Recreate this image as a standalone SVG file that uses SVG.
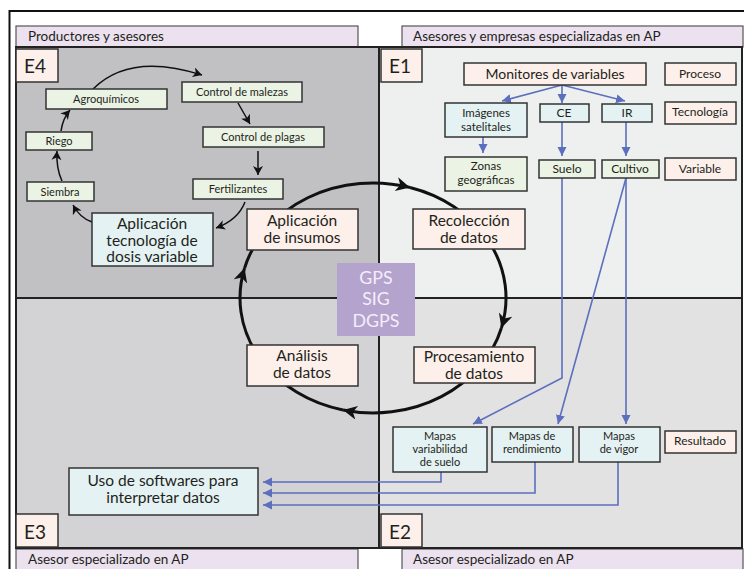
<svg xmlns="http://www.w3.org/2000/svg" width="744" height="569" viewBox="0 0 744 569">
<defs>
<style>
text{font-family:Lato,"Open Sans","Liberation Sans",sans-serif;fill:#231f20;text-anchor:middle}
.hd{fill:#ece1ef;stroke:#555;stroke-width:1.2}
.hdt{font-size:13.5px;text-anchor:start}
.lab{fill:#fdefea;stroke:#333;stroke-width:1.5}
.cy{fill:#e4f2f3;stroke:#333;stroke-width:1.5}
.gr{fill:#ebf3e4;stroke:#333;stroke-width:1.5}
.pk{fill:#fdefea;stroke:#333;stroke-width:1.5}
.s{font-size:11px}
.m{font-size:12px}
.m2{font-size:11.5px}
.b{font-size:15.5px}
.e{font-size:19px;text-anchor:start}
.g{font-size:17.8px;fill:#f4eefa}
.blk{fill:none;stroke:#111;stroke-width:1.5}
.big{fill:none;stroke:#111;stroke-width:3}
.blu{fill:none;stroke:#5b6fbe;stroke-width:1.6}
</style>
<marker id="ah" markerUnits="userSpaceOnUse" markerWidth="12" markerHeight="12" refX="9" refY="5" orient="auto"><path d="M0,0 L9,5 L0,10 L2.5,5 Z" fill="#111"/></marker>
<marker id="ahb" markerUnits="userSpaceOnUse" markerWidth="18" markerHeight="18" refX="14" refY="7" orient="auto"><path d="M0,0 L14,7 L0,14 L4,7 Z" fill="#111"/></marker>
<marker id="ab" markerUnits="userSpaceOnUse" markerWidth="12" markerHeight="12" refX="9" refY="4.5" orient="auto"><path d="M0,0 L9,4.5 L0,9 Z" fill="#5b6fbe"/></marker>
</defs>
<rect x="0" y="0" width="744" height="569" fill="#fff"/>
<!-- outer frame -->
<path d="M9.5 569 V11 H744" fill="none" stroke="#111" stroke-width="2"/>
<!-- headers -->
<g id="hdr-tl"><rect class="hd" x="16" y="26" width="342" height="21"/><text class="hdt" x="28" y="41">Productores y asesores</text></g>
<g id="hdr-tr"><rect class="hd" x="402" y="26" width="341" height="21"/><text class="hdt" x="413" y="41">Asesores y empresas especializadas en AP</text></g>
<g id="hdr-bl"><rect class="hd" x="16" y="549" width="342" height="21"/><text class="hdt" x="28" y="564">Asesor especializado en AP</text></g>
<g id="hdr-br"><rect class="hd" x="402" y="549" width="341" height="21"/><text class="hdt" x="413" y="564">Asesor especializado en AP</text></g>
<!-- panels -->
<rect x="16" y="47" width="363" height="251" fill="#c1c1c3"/>
<rect x="379" y="47" width="363" height="251" fill="#eef0f0"/>
<rect x="16" y="298" width="363" height="250" fill="#d3d3d5"/>
<rect x="379" y="298" width="363" height="250" fill="#e2e2e2"/>
<rect x="16" y="47" width="726" height="501" fill="none" stroke="#222" stroke-width="2"/>
<path d="M379 47 V548 M16 298 H742" stroke="#222" stroke-width="2" fill="none"/>
<!-- GPS -->
<g id="gps"><rect x="337" y="263" width="78" height="73" fill="#b4a3cc"/>
<text class="g" x="376" y="283.5">GPS</text>
<text class="g" x="376" y="305">SIG</text>
<text class="g" x="376" y="326.5">DGPS</text></g>
<!-- connectors -->
<g id="connectors">
<path class="big" d="M343 410 A133 115 0 0 1 244.6 268" marker-end="url(#ahb)"/>
<path class="big" d="M244.6 268 A133 115 0 0 1 410 187.5" marker-end="url(#ahb)"/>
<path class="big" d="M410 187.5 A133 115 0 0 1 501.4 328" marker-end="url(#ahb)"/>
<path class="big" d="M501.4 328 A133 115 0 0 1 343 410" marker-end="url(#ahb)"/>
<path class="blk" d="M93 89 Q130 52 202 75" marker-end="url(#ah)"/>
<path class="blk" d="M238 103 L250 124" marker-end="url(#ah)"/>
<path class="blk" d="M258 151 L258 175" marker-end="url(#ah)"/>
<path class="blk" d="M245 202 Q238 220 216 228" marker-end="url(#ah)"/>
<path class="blk" d="M92 222 Q80 218 73 205" marker-end="url(#ah)"/>
<path class="blk" d="M62 181 Q56 168 57 151" marker-end="url(#ah)"/>
<path class="blk" d="M61 131 Q63 118 70 110" marker-end="url(#ah)"/>
<path class="blu" d="M562 85 L502 101" marker-end="url(#ab)"/>
<path class="blu" d="M562 85 L562 103" marker-end="url(#ab)"/>
<path class="blu" d="M562 85 L625 101" marker-end="url(#ab)"/>
<path class="blu" d="M483 137 L483 153" marker-end="url(#ab)"/>
<path class="blu" d="M562 122 L562 156" marker-end="url(#ab)"/>
<path class="blu" d="M626 122 L626 156" marker-end="url(#ab)"/>
<path class="blu" d="M562 178 L562 378 L473 424" marker-end="url(#ab)"/>
<path class="blu" d="M626 178 L558 424" marker-end="url(#ab)"/>
<path class="blu" d="M626 178 L626 424" marker-end="url(#ab)"/>
<path class="blu" d="M441 472 L441 482 L263 482" marker-end="url(#ab)"/>
<path class="blu" d="M535 462 L535 493 L263 493" marker-end="url(#ab)"/>
<path class="blu" d="M618 462 L618 505 L263 505" marker-end="url(#ab)"/>
</g>
<!-- E labels -->
<g id="E4"><rect class="lab" x="16" y="49" width="42" height="33"/><text class="e" x="24" y="73">E4</text></g>
<g id="E1"><rect class="lab" x="381" y="49" width="41" height="33"/><text class="e" x="389" y="73">E1</text></g>
<g id="E3"><rect class="lab" x="16" y="514" width="42" height="33"/><text class="e" x="24" y="539">E3</text></g>
<g id="E2"><rect class="lab" x="381" y="514" width="41" height="33"/><text class="e" x="389" y="539">E2</text></g>
<!-- E4 nodes -->
<g id="agro"><rect class="gr" x="46" y="89" width="121" height="20"/><text class="s" x="106" y="103">Agroquímicos</text></g>
<g id="malezas"><rect class="gr" x="182" y="82" width="120" height="20"/><text class="s" x="242" y="96">Control de malezas</text></g>
<g id="plagas"><rect class="gr" x="203" y="127" width="121" height="20"/><text class="s" x="263" y="141">Control de plagas</text></g>
<g id="fert"><rect class="gr" x="193" y="179" width="90" height="20"/><text class="s" x="238" y="193">Fertilizantes</text></g>
<g id="riego"><rect class="gr" x="26" y="132" width="66" height="18"/><text class="s" x="59" y="145">Riego</text></g>
<g id="siembra"><rect class="gr" x="27" y="182" width="67" height="19"/><text class="s" x="60" y="195.5">Siembra</text></g>
<g id="aplic-tec"><rect class="cy" x="92" y="213" width="121" height="53"/><text class="b" x="152" y="229">Aplicación</text><text class="b" x="152" y="245.5">tecnología de</text><text class="b" x="152" y="262">dosis variable</text></g>
<!-- cycle nodes -->
<g id="insumos"><rect class="pk" x="247" y="209" width="111" height="41"/><text class="b" x="302" y="226">Aplicación</text><text class="b" x="302" y="242.5">de insumos</text></g>
<g id="recoleccion"><rect class="pk" x="413" y="209" width="112" height="40"/><text class="b" x="469" y="226">Recolección</text><text class="b" x="469" y="242.5">de datos</text></g>
<g id="procesamiento"><rect class="pk" x="414" y="347" width="121" height="36"/><text class="b" x="474" y="362">Procesamiento</text><text class="b" x="474" y="378.5">de datos</text></g>
<g id="analisis"><rect class="pk" x="247" y="345" width="111" height="41"/><text class="b" x="302" y="361">Análisis</text><text class="b" x="302" y="377.5">de datos</text></g>
<!-- E1 nodes -->
<g id="monitores"><rect class="pk" x="464" y="63" width="182" height="22"/><text x="555" y="79" style="font-size:14px">Monitores de variables</text></g>
<g id="proceso"><rect class="pk" x="665" y="63" width="71" height="22"/><text class="m" x="700" y="78">Proceso</text></g>
<g id="imagenes"><rect class="cy" x="445" y="103" width="82" height="34"/><text class="m2" x="486" y="116.5">Imágenes</text><text class="m2" x="486" y="130.5">satelitales</text></g>
<g id="ce"><rect class="cy" x="540" y="104" width="49" height="18"/><text class="m" x="564" y="117">CE</text></g>
<g id="ir"><rect class="cy" x="602" y="104" width="50" height="18"/><text class="m" x="627" y="117">IR</text></g>
<g id="tecnologia"><rect class="pk" x="665" y="102" width="71" height="22"/><text class="m" x="700" y="116">Tecnología</text></g>
<g id="zonas"><rect class="gr" x="445" y="157" width="82" height="34"/><text class="m2" x="486" y="170">Zonas</text><text class="m2" x="486" y="184">geográficas</text></g>
<g id="suelo"><rect class="gr" x="539" y="160" width="56" height="18"/><text class="m" x="567" y="172.5">Suelo</text></g>
<g id="cultivo"><rect class="gr" x="602" y="160" width="57" height="18"/><text class="m" x="630" y="172.5">Cultivo</text></g>
<g id="variable"><rect class="pk" x="665" y="158" width="71" height="22"/><text class="m" x="700" y="172.5">Variable</text></g>
<!-- E2 nodes -->
<g id="m-var"><rect class="cy" x="393" y="427" width="94" height="45"/><text class="s" x="440" y="440">Mapas</text><text class="s" x="440" y="453">variabilidad</text><text class="s" x="440" y="466">de suelo</text></g>
<g id="m-rend"><rect class="cy" x="492" y="427" width="81" height="35"/><text class="s" x="532" y="440">Mapas de</text><text class="s" x="532" y="452.5">rendimiento</text></g>
<g id="m-vigor"><rect class="cy" x="579" y="427" width="81" height="35"/><text class="s" x="619" y="440">Mapas</text><text class="s" x="619" y="453">de vigor</text></g>
<g id="resultado"><rect class="pk" x="665" y="431" width="71" height="22"/><text class="m" x="700" y="445">Resultado</text></g>
<!-- E3 node -->
<g id="uso"><rect class="cy" x="69" y="468" width="189" height="47"/><text class="b" x="163" y="486">Uso de softwares para</text><text class="b" x="163" y="502.5">interpretar datos</text></g>
</svg>
